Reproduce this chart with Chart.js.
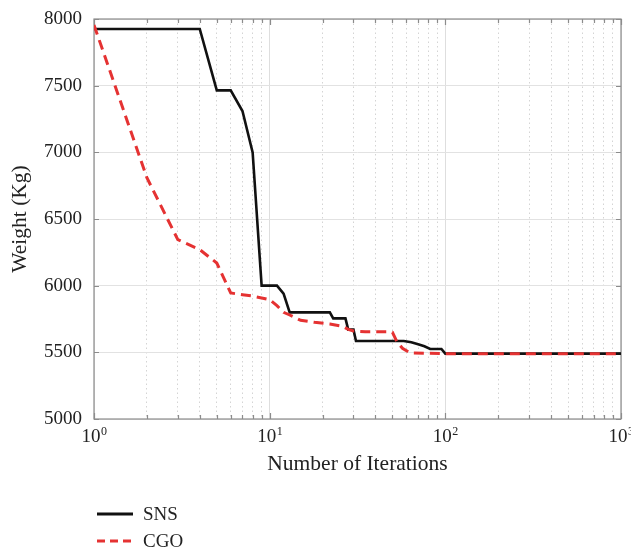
<!DOCTYPE html>
<html><head><meta charset="utf-8">
<script src="https://cdn.jsdelivr.net/npm/chart.js@4"></script>
<style>
html,body{margin:0;padding:0;background:#fff;}
#wrap{position:relative;width:631px;height:552px;}
canvas{display:block;}
.leg{position:absolute;left:97px;height:24px;font-family:'Liberation Serif','Times New Roman',serif;font-size:19px;color:#222;display:flex;align-items:center;}
.leg svg{margin-right:10px;}
</style></head><body>
<div id="wrap">
<canvas id="c" width="631" height="552"></canvas>
<div class="leg" style="top:502px"><svg width="36" height="6"><line x1="0" y1="3" x2="36" y2="3" stroke="#111" stroke-width="3"/></svg>SNS</div>
<div class="leg" style="top:529px"><svg width="36" height="6"><line x1="0" y1="3" x2="36" y2="3" stroke="#e53232" stroke-width="3" stroke-dasharray="8,5"/></svg>CGO</div>
</div>
<script>
// ---- data ----
const snsIter   = [1, 4, 5, 6, 7, 8, 9, 11, 12, 13, 22, 23, 27, 28, 30, 31, 58, 64, 70, 76, 82, 95, 100, 1000];
const snsWeight = [7925, 7925, 7465, 7465, 7310, 7000, 6000, 6000, 5940, 5800, 5800, 5755, 5755, 5670, 5670, 5585, 5585, 5575, 5560, 5545, 5525, 5525, 5490, 5490];
const cgoIter   = [1, 2, 3, 4, 5, 6, 7, 8, 9, 10, 11, 12, 13, 15, 18, 22, 26, 28, 30, 35, 48, 50, 53, 57, 63, 100, 1000];
const cgoWeight = [7955, 6810, 6345, 6270, 6170, 5945, 5932, 5922, 5908, 5895, 5850, 5800, 5780, 5740, 5725, 5712, 5695, 5672, 5660, 5655, 5655, 5650, 5580, 5530, 5495, 5490, 5490];
const xTickValues = [1, 10, 100, 1000];
const xTickBase = ['10', '10', '10', '10'];
const xTickExp  = ['0', '1', '2', '3'];
const yTicks = [5000, 5500, 6000, 6500, 7000, 7500, 8000];
const seriesNames = ['SNS', 'CGO'];

const toPts = (xs, ys) => xs.map((v, i) => ({x: v, y: ys[i]}));
const isPow10 = v => Math.abs(Math.log10(v) - Math.round(Math.log10(v))) < 1e-9;
const serif = "'Liberation Serif', 'Times New Roman', serif";

const frame = {
  id: 'frame',
  beforeDatasetsDraw(chart) {
    const {ctx, chartArea: a, scales: {x, y}} = chart;
    ctx.save();
    ctx.strokeStyle = '#8c8c8c';
    ctx.lineWidth = 1.2;
    ctx.strokeRect(a.left, a.top, a.right - a.left, a.bottom - a.top);
    ctx.beginPath();
    x.ticks.forEach(t => {
      const px = Math.round(x.getPixelForValue(t.value)) + 0.5;
      const L = isPow10(t.value) ? 6 : 4;
      ctx.moveTo(px, a.bottom); ctx.lineTo(px, a.bottom - L);
      ctx.moveTo(px, a.top); ctx.lineTo(px, a.top + L);
    });
    y.ticks.forEach(t => {
      const py = Math.round(y.getPixelForValue(t.value)) + 0.5;
      ctx.moveTo(a.left, py); ctx.lineTo(a.left + 5, py);
      ctx.moveTo(a.right, py); ctx.lineTo(a.right - 5, py);
    });
    ctx.stroke();
    ctx.restore();
  },
  afterDraw(chart) {
    // power-of-ten labels with superscript exponent
    const {ctx, chartArea: a, scales: {x}} = chart;
    ctx.save();
    ctx.fillStyle = '#222';
    ctx.textBaseline = 'alphabetic';
    ctx.textAlign = 'left';
    const baseFont = '19px ' + serif, expFont = '12px ' + serif;
    xTickValues.forEach((v, i) => {
      const px = x.getPixelForValue(v);
      ctx.font = baseFont; const wb = ctx.measureText(xTickBase[i]).width;
      ctx.font = expFont; const we = ctx.measureText(xTickExp[i]).width;
      const x0 = px - (wb + we) / 2;
      const yb = a.bottom + 23;
      ctx.font = baseFont; ctx.fillText(xTickBase[i], x0, yb);
      ctx.font = expFont; ctx.fillText(xTickExp[i], x0 + wb + 0.5, yb - 7);
    });
    ctx.restore();
  }
};

new Chart(document.getElementById('c'), {
  type: 'line',
  data: {
    datasets: [
      {label: seriesNames[0], data: toPts(snsIter, snsWeight), borderColor: '#111', borderWidth: 2.6,
       pointRadius: 0, tension: 0, fill: false, order: 1},
      {label: seriesNames[1], data: toPts(cgoIter, cgoWeight), borderColor: '#e53232', borderWidth: 3,
       borderDash: [10, 6], pointRadius: 0, tension: 0, fill: false, order: 0}
    ]
  },
  options: {
    responsive: false,
    animation: false,
    layout: {padding: {top: 19, right: 10, bottom: 73, left: 0}},
    plugins: {legend: {display: false}, tooltip: {enabled: false}},
    scales: {
      x: {
        type: 'logarithmic', min: 1, max: 1000,
        afterBuildTicks: s => {
          const t = [];
          for (let e = 0; e < 3; e++) for (let m = 1; m < 10; m++) t.push({value: m * Math.pow(10, e), major: m === 1});
          t.push({value: 1000, major: true});
          s.ticks = t;
        },
        afterFit: s => { s.height = 60; s.paddingLeft = 0; s.paddingRight = 0; },
        ticks: {
          autoSkip: false, maxRotation: 0, minRotation: 0, padding: 5, color: '#222',
          font: {family: serif, size: 19},
          callback: () => ''
        },
        grid: {
          drawTicks: false,
          color: c => (c.tick && isPow10(c.tick.value)) ? '#dedede' : '#d4d4d4',
          lineWidth: 1
        },
        border: {display: false, dash: c => (c.tick && isPow10(c.tick.value)) ? [] : [1.5, 3]},
        title: {display: true, text: 'Number of Iterations', color: '#222',
                font: {family: serif, size: 21.5}, padding: {top: 0, bottom: 2}}
      },
      y: {
        type: 'linear', min: 5000, max: 8000,
        afterBuildTicks: s => { s.ticks = yTicks.map(v => ({value: v})); },
        afterFit: s => { s.width = 94; s.paddingTop = 0; s.paddingBottom = 0; },
        ticks: {padding: 12, color: '#222', font: {family: serif, size: 19}, callback: v => String(v)},
        grid: {drawTicks: false, color: '#e2e2e2', lineWidth: 1},
        border: {display: false},
        title: {display: true, text: 'Weight (Kg)', color: '#222',
                font: {family: serif, size: 21.5}, padding: {top: 7, bottom: 0}}
      }
    }
  },
  plugins: [frame]
});
</script>
</body></html>
